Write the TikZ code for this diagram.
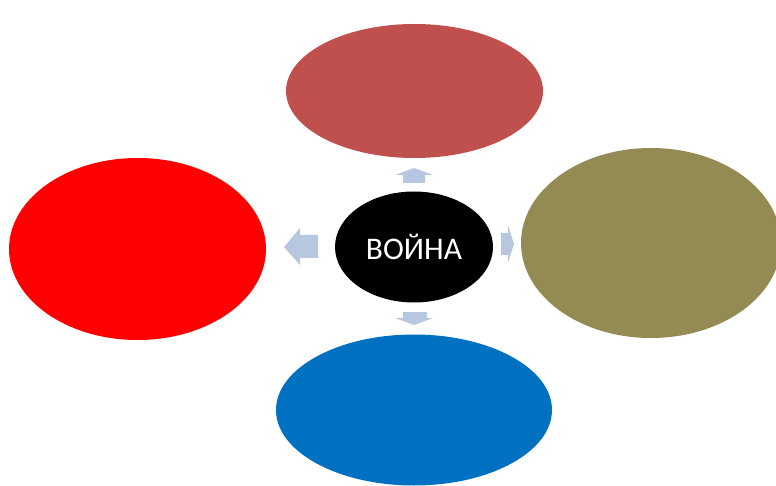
\documentclass[tikz,border=0pt]{standalone}
\usepackage{fontspec}
\setmainfont{Carlito}
\usetikzlibrary{shapes.geometric}
\definecolor{ctop}{RGB}{192,80,77}
\definecolor{cleft}{RGB}{255,0,0}
\definecolor{cright}{RGB}{148,138,84}
\definecolor{cbottom}{RGB}{0,112,192}
\definecolor{carrow}{RGB}{184,199,224}
\begin{document}
\begin{tikzpicture}[x=1pt,y=-1pt,
  blob/.style={ellipse,inner sep=0pt,draw=none},
  blockarrow/.style={fill=carrow,draw=none}]
\useasboundingbox (0,0) rectangle (776,486);
\begin{scope}
\clip (0,0) rectangle (776,486);
\node[blob,fill=ctop,minimum width=257pt,minimum height=134pt] (top) at (414.5,91) {};
\node[blob,fill=cleft,minimum width=257pt,minimum height=182pt] (left) at (137.5,249) {};
\node[blob,fill=cright,minimum width=260pt,minimum height=190pt] (right) at (651,243) {};
\node[blob,fill=cbottom,minimum width=276pt,minimum height=151pt] (bottom) at (414,410) {};
\node[blob,fill=black,minimum width=158pt,minimum height=111pt,text=white,font=\fontsize{31.5}{36}\selectfont] (war) at (414,247) {ВОЙНА};
\end{scope}
% block arrows
\fill[blockarrow] (403,183) -- (403,175) -- (395,175) -- (414,168) -- (433,175) -- (425,175) -- (425,183) -- cycle;
\fill[blockarrow] (318,235) -- (300,235) -- (300,228) -- (284,247) -- (300,265) -- (300,258) -- (318,258) -- cycle;
\fill[blockarrow] (501,233) -- (508,233) -- (508,225) -- (514,244) -- (508,263) -- (508,255) -- (501,255) -- cycle;
\fill[blockarrow] (403,312) -- (427,312) -- (427,318) -- (433,318) -- (414,325) -- (395,318) -- (403,318) -- cycle;
\end{tikzpicture}
\end{document}
